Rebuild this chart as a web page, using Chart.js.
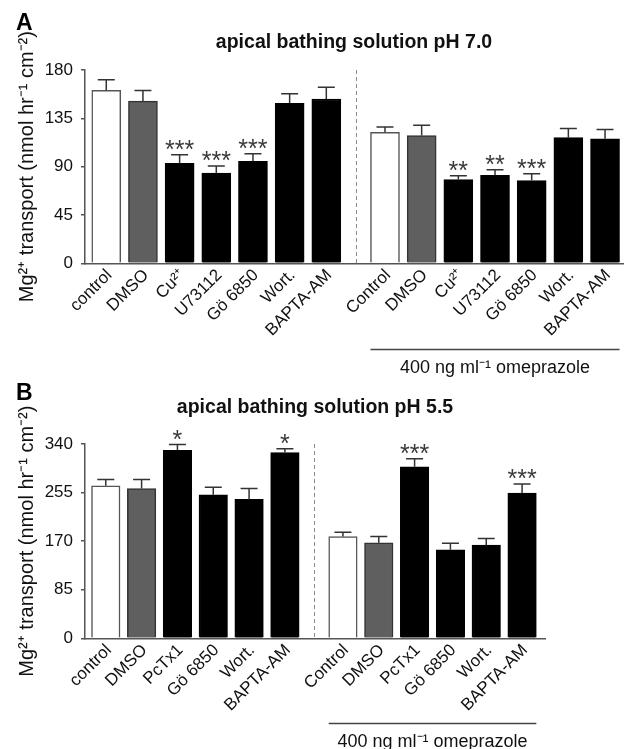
<!DOCTYPE html>
<html><head><meta charset="utf-8">
<script src="https://cdn.jsdelivr.net/npm/chart.js@4.4.0/dist/chart.umd.min.js"></script>
<style>html,body{margin:0;padding:0;background:#fff;} canvas{display:block;}</style>
</head><body>
<canvas id="cA" width="624" height="378"></canvas>
<canvas id="cB" width="624" height="371"></canvas>
<script>
// ---------- data ----------
const categoriesA = ['control','DMSO','Cu²⁺','U73112','Gö 6850','Wort.','BAPTA-AM',
                     'Control','DMSO','Cu²⁺','U73112','Gö 6850','Wort.','BAPTA-AM'];
const valuesA = [161, 151, 93, 84, 95, 149, 153, 122, 119, 78, 82, 77, 117, 116];
const errorsA = [10, 10, 8, 6.5, 7, 9, 11, 5, 9.5, 3.5, 5, 6.5, 8.5, 8.5];
const starsA  = ['', '', '***', '***', '***', '', '', '', '', '**', '**', '***', '', ''];
const yTicksA = [0, 45, 90, 135, 180];

const categoriesB = ['control','DMSO','PcTx1','Gö 6850','Wort.','BAPTA-AM',
                     'Control','DMSO','PcTx1','Gö 6850','Wort.','BAPTA-AM'];
const valuesB = [267, 262, 329, 251, 243, 325, 178, 167, 300, 155, 163, 254];
const errorsB = [11, 16, 10, 13.5, 19, 6.5, 7.5, 11, 14, 11.5, 11.5, 16];
const starsB  = ['', '', '*', '', '', '*', '', '', '***', '', '', '***'];
const yTicksB = [0, 85, 170, 255, 340];

const titleA = 'apical bathing solution pH 7.0';
const titleB = 'apical bathing solution pH 5.5';
const yTitle = 'Mg²⁺ transport (nmol hr⁻¹ cm⁻²)';
const groupLabel = '400 ng ml⁻¹ omeprazole';

// ---------- drawing ----------
const FONT = "'Liberation Sans', Arial, Helvetica, sans-serif";

function makeChart(id, cfg) {
  const n = cfg.categories.length, half = n / 2;
  const pos = cfg.categories.map((_, i) => i < half ? i : i + cfg.gap);
  const divider = (pos[half - 1] + pos[half]) / 2;
  const fill = cfg.categories.map((_, i) => { const k = i % half; return k === 0 ? '#ffffff' : k === 1 ? '#5f5f5f' : '#000000'; });
  const stroke = cfg.categories.map((_, i) => { const k = i % half; return k === 0 ? '#555555' : k === 1 ? '#333333' : '#000000'; });
  const data = pos.map((p, i) => ({x: p, y: cfg.values[i]}));

  const overlay = {
    id: 'overlay',
    beforeDatasetsDraw(chart) {
      const ctx = chart.ctx, xs = chart.scales.x, ys = chart.scales.y;
      const xp = Math.round(xs.getPixelForValue(divider)) + 0.5;
      ctx.save();
      ctx.strokeStyle = '#8a8a8a'; ctx.lineWidth = 1; ctx.setLineDash([4, 3]);
      ctx.beginPath(); ctx.moveTo(xp, ys.top); ctx.lineTo(xp, ys.bottom); ctx.stroke();
      ctx.restore();
    },
    afterDatasetsDraw(chart) {
      const ctx = chart.ctx, xs = chart.scales.x, ys = chart.scales.y;
      ctx.save();
      ctx.strokeStyle = '#333'; ctx.lineWidth = 1.5;
      pos.forEach((p, i) => {
        const xp = xs.getPixelForValue(p);
        const y0 = ys.getPixelForValue(cfg.values[i]);
        const y1 = ys.getPixelForValue(cfg.values[i] + cfg.errors[i]);
        ctx.beginPath();
        ctx.moveTo(xp, y0); ctx.lineTo(xp, y1);
        ctx.moveTo(xp - 8.5, y1); ctx.lineTo(xp + 8.5, y1);
        ctx.stroke();
        if (cfg.stars[i]) {
          ctx.fillStyle = '#3a3a3a';
          ctx.font = '25px ' + FONT;
          ctx.textAlign = 'center'; ctx.textBaseline = 'alphabetic';
          ctx.fillText(cfg.stars[i], xp, y1 + 3);
        }
      });
      ctx.restore();
    },
    afterDraw(chart) {
      const ctx = chart.ctx, xs = chart.scales.x, ys = chart.scales.y;
      ctx.save();
      ctx.fillStyle = '#000';
      ctx.font = 'bold 23px ' + FONT;
      ctx.textAlign = 'left'; ctx.textBaseline = 'alphabetic';
      ctx.fillText(cfg.letter, 16, cfg.letterY);
      const x0 = xs.getPixelForValue(pos[half]) - cfg.barW / 2;
      const x1 = xs.getPixelForValue(pos[n - 1]) + cfg.barW / 2;
      const yl = Math.round(ys.bottom + cfg.lineOff) + 0.5;
      ctx.strokeStyle = '#444'; ctx.lineWidth = 1.5;
      ctx.beginPath(); ctx.moveTo(x0, yl); ctx.lineTo(x1, yl); ctx.stroke();
      ctx.fillStyle = '#111';
      ctx.font = '18px ' + FONT;
      ctx.textAlign = 'center';
      ctx.fillText(groupLabel, (x0 + x1) / 2, ys.bottom + cfg.textOff);
      ctx.restore();
    }
  };

  return new Chart(document.getElementById(id), {
    type: 'bar',
    data: {datasets: [{data, backgroundColor: fill, borderColor: stroke, borderWidth: 1.5, barThickness: cfg.barW}]},
    options: {
      responsive: false, animation: false,
      layout: {padding: {left: 0, right: cfg.padRight, top: 0, bottom: 0}},
      plugins: {
        legend: {display: false}, tooltip: {enabled: false},
        title: {display: true, text: cfg.title, fullSize: false, color: '#111',
                font: {family: FONT, size: 19.5, weight: 'bold'},
                padding: {top: cfg.titleTop, bottom: cfg.titleBottom}}
      },
      scales: {
        x: {
          type: 'linear', min: -0.58, max: cfg.xMax, offset: false,
          afterBuildTicks: s => { s.ticks = pos.map(v => ({value: v})); },
          ticks: {autoSkip: false, maxRotation: 45, minRotation: 45, labelOffset: 3, padding: -6,
                  color: '#111', font: {family: FONT, size: 17},
                  callback: (v, i) => cfg.categories[i]},
          grid: {display: false, offset: false},
          border: {display: true, color: '#555', width: 1.5},
          afterFit: s => { s.height = cfg.xHeight; }
        },
        y: {
          min: 0, max: cfg.yTicks[cfg.yTicks.length - 1],
          afterBuildTicks: s => { s.ticks = cfg.yTicks.map(v => ({value: v})); },
          ticks: {color: '#111', font: {family: FONT, size: 17}, padding: 8},
          grid: {drawOnChartArea: false, tickLength: 4, color: '#555', lineWidth: 1.5},
          border: {display: true, color: '#555', width: 1.5},
          title: {display: true, text: yTitle, color: '#111', font: {family: FONT, size: 20},
                  padding: {top: 15, bottom: 0}},
          afterFit: s => { s.width = 85; }
        }
      }
    },
    plugins: [overlay]
  });
}

makeChart('cA', {
  categories: categoriesA, values: valuesA, errors: errorsA, stars: starsA, yTicks: yTicksA,
  title: titleA, letter: 'A', letterY: 30, gap: 0.6, barW: 29, xMax: 14.09, padRight: 1,
  xHeight: 114.7, titleTop: 31.3, titleBottom: 15.3, lineOff: 86, textOff: 110
});
makeChart('cB', {
  categories: categoriesB, values: valuesB, errors: errorsB, stars: starsB, yTicks: yTicksB,
  title: titleB, letter: 'B', letterY: 22, gap: 0.62, barW: 28.5, xMax: 12.26, padRight: 79,
  xHeight: 110.7, titleTop: 18.3, titleBottom: 24.3, lineOff: 84.4, textOff: 108.4
});
</script>
</body></html>
